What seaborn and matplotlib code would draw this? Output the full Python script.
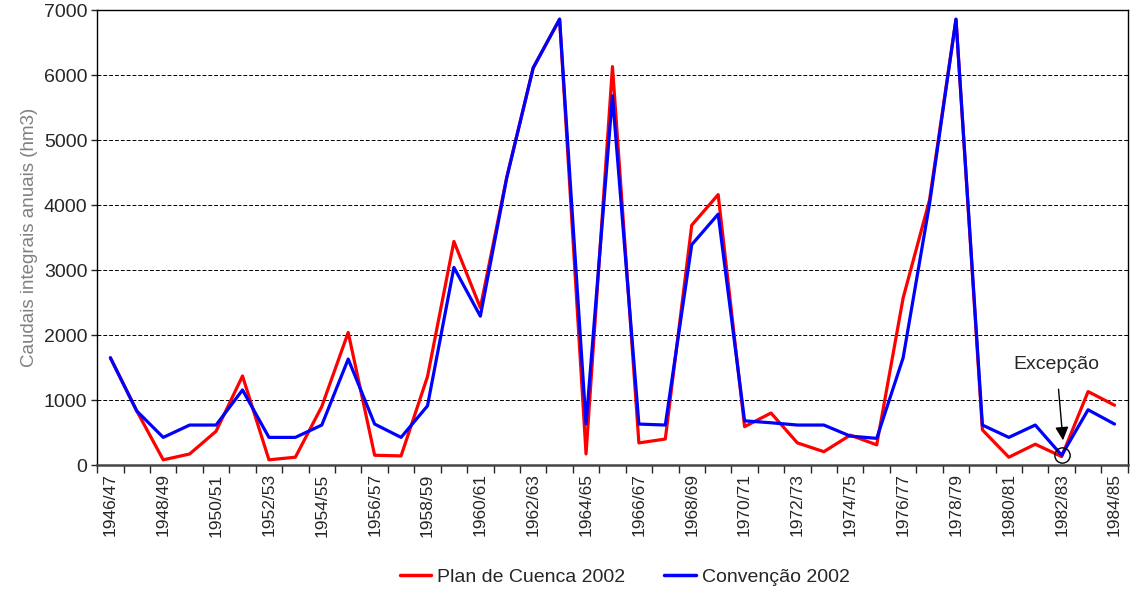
"""Annual integral flows: Plan de Cuenca 2002 vs Convenção 2002."""

import matplotlib

matplotlib.use("Agg")
import matplotlib.pyplot as plt
import pandas as pd
import seaborn as sns

years = [f"{y}/{str(y + 1)[-2:]}" for y in range(1946, 1985)]

plan_cuenca = [
    1650, 830, 80, 170, 520, 1370, 80, 120, 900, 2040,
    150, 140, 1360, 3440, 2420, 4430, 6110, 6860, 170, 6130,
    340, 400, 3690, 4160, 590, 800, 340, 205, 460, 310,
    2570, 4080, 6860, 540, 120, 320, 130, 1130, 920,
]
convencao = [
    1650, 830, 425, 615, 615, 1155, 425, 425, 615, 1630,
    630, 425, 910, 3040, 2290, 4420, 6110, 6860, 630, 5680,
    630, 615, 3390, 3860, 680, 650, 615, 615, 445, 410,
    1650, 4020, 6860, 615, 425, 615, 150, 850, 630,
]
series_names = ["Plan de Cuenca 2002", "Convenção 2002"]
series_colors = ["#ff0000", "#0000ff"]

sns.set_style("white")
plt.rcParams["font.family"] = ["Liberation Sans", "DejaVu Sans"]

df = pd.DataFrame({
    "pos": list(range(len(years))) * 2,
    "valor": plan_cuenca + convencao,
    "serie": [series_names[0]] * len(years) + [series_names[1]] * len(years),
})

fig = plt.figure(figsize=(11.3, 5.92), dpi=100)
ax = fig.add_axes([0.086, 0.2145, 0.912, 0.7685])

sns.lineplot(
    data=df, x="pos", y="valor", hue="serie", palette=series_colors,
    hue_order=series_names, linewidth=2.3, ax=ax, legend=False,
)

ax.set_xlim(-0.5, len(years) - 0.5)
ax.set_ylim(0, 7000)
ax.set_yticks(range(0, 7001, 1000))
ax.tick_params(axis="y", labelsize=14, length=4, width=1, direction="out", left=True, pad=3)
ax.yaxis.grid(True, linestyle=(0, (4, 2)), color="black", linewidth=0.7)
ax.set_axisbelow(True)

# category ticks at boundaries, labels every second year
ax.set_xticks([i - 0.5 for i in range(len(years) + 1)], minor=True)
ax.set_xticks(range(0, len(years), 2))
ax.set_xticklabels(years[::2], rotation=90, fontsize=12.5)
ax.tick_params(axis="x", which="major", length=0, pad=6)
ax.tick_params(axis="x", which="minor", length=6, width=1, direction="out", bottom=True)

for side in ["top", "right", "left", "bottom"]:
    ax.spines[side].set_visible(True)
    ax.spines[side].set_color("black")
    ax.spines[side].set_linewidth(1)
ax.spines["bottom"].set_linewidth(1.8)
ax.spines["bottom"].set_color("#444444")

ax.set_xlabel("")
ax.set_ylabel("Caudais integrais anuais (hm3)", fontsize=13.5, color="#808080", labelpad=4)

# exception marker
exc = years.index("1982/83")
ax.plot(exc, convencao[exc], marker="o", markersize=11, markerfacecolor="none",
        markeredgecolor="black", markeredgewidth=1, zorder=5)
ax.annotate(
    "Excepção", xy=(exc + 0.05, 380), xytext=(exc - 0.2, 1540),
    fontsize=14, ha="center", va="center",
    arrowprops=dict(arrowstyle="-|>", color="black", lw=1, mutation_scale=20,
                    shrinkA=9, shrinkB=0),
)

handles = [plt.Line2D([], [], color=c, linewidth=2.5) for c in series_colors]
fig.legend(handles, series_names, loc="center", bbox_to_anchor=(0.553, 0.025),
           ncol=2, frameon=False, fontsize=14, handlelength=1.6,
           columnspacing=2.0, handletextpad=0.35)

fig.savefig("out.png", dpi=100)
